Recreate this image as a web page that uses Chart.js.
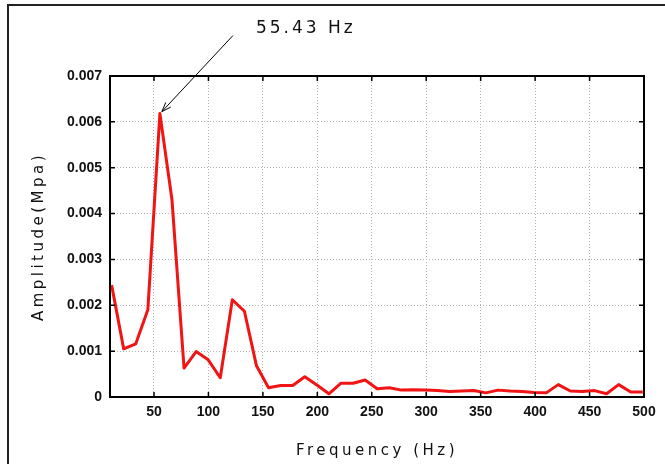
<!DOCTYPE html>
<html lang="en">
<head>
<meta charset="UTF-8">
<title>Amplitude spectrum</title>
<script src="https://cdn.jsdelivr.net/npm/chart.js"></script>
<style>
  body { margin: 0; background: #fff; }
  #wrap { position: relative; width: 665px; height: 464px; }
  #frame { position: absolute; left: 7px; top: 4px; right: 0; bottom: 0;
           border-top: 2px solid #222; border-left: 2px solid #222; pointer-events: none; }
</style>
</head>
<body>
<div id="wrap">
  <canvas id="spectrum" width="665" height="464"></canvas>
  <div id="frame"></div>
</div>

<script>
// frequency bins (Hz) and amplitude (MPa)
const freqHz = [11.09, 22.17, 33.26, 44.35, 55.43, 66.52, 77.60, 88.69, 99.78, 110.86,
                121.95, 133.04, 144.12, 155.21, 166.30, 177.38, 188.47, 199.56, 210.64, 221.73,
                232.81, 243.90, 254.99, 266.07, 277.16, 288.25, 299.33, 310.42, 321.51, 332.59,
                343.68, 354.76, 365.85, 376.94, 388.02, 399.11, 410.20, 421.28, 432.37, 443.46,
                454.54, 465.63, 476.71, 487.80, 498.89];
const amplitude = [0.00244, 0.00105, 0.00116, 0.00190, 0.00618, 0.00430, 0.00063, 0.00099, 0.00081, 0.00042,
                   0.00212, 0.00187, 0.00068, 0.00020, 0.00025, 0.00025, 0.00044, 0.00026, 0.00007, 0.00030,
                   0.00030, 0.00037, 0.00018, 0.00020, 0.00015, 0.00016, 0.00015, 0.00014, 0.00012, 0.00013,
                   0.00014, 0.00009, 0.00015, 0.00013, 0.00012, 0.00010, 0.00009, 0.00027, 0.00013, 0.00012,
                   0.00014, 0.00007, 0.00027, 0.00011, 0.00011];
const xTicks = [50, 100, 150, 200, 250, 300, 350, 400, 450, 500];
const yTicks = [0, 0.001, 0.002, 0.003, 0.004, 0.005, 0.006, 0.007];
const yTickLabels = ['0', '0.001', '0.002', '0.003', '0.004', '0.005', '0.006', '0.007'];
const xMin = 9.6, xMax = 500;

const peakAmp = Math.max(...amplitude);
const peakFreq = freqHz[amplitude.indexOf(peakAmp)];

// draw the axis title with letter spacing, like the original plot
function spacedTitle(scale, spacing) {
    if (scale._spaced) return;
    scale._spaced = true;
    const draw = scale.drawTitle;
    scale.drawTitle = function () {
        this.ctx.save();
        this.ctx.letterSpacing = spacing;
        draw.call(this);
        this.ctx.restore();
    };
}

// closed box, inward ticks on all four sides, and the peak arrow
const boxAndArrow = {
    id: 'boxAndArrow',
    afterDraw(chart) {
        const { ctx, chartArea: a, scales: { x, y } } = chart;
        ctx.save();
        ctx.strokeStyle = '#000';
        ctx.lineWidth = 2;
        ctx.strokeRect(a.left, a.top, a.right - a.left, a.bottom - a.top);

        ctx.lineWidth = 1.5;
        ctx.beginPath();
        x.ticks.forEach(t => {
            const px = x.getPixelForValue(t.value);
            ctx.moveTo(px, a.bottom); ctx.lineTo(px, a.bottom - 5);
            ctx.moveTo(px, a.top); ctx.lineTo(px, a.top + 5);
        });
        y.ticks.forEach(t => {
            const py = y.getPixelForValue(t.value);
            ctx.moveTo(a.left, py); ctx.lineTo(a.left + 5, py);
            ctx.moveTo(a.right, py); ctx.lineTo(a.right - 5, py);
        });
        ctx.stroke();

        // arrow pointing at the peak
        const tipX = x.getPixelForValue(peakFreq) + 2;
        const tipY = y.getPixelForValue(peakAmp) - 2;
        const tailX = tipX + 71, tailY = tipY - 76;
        const ang = Math.atan2(tailY - tipY, tailX - tipX);
        ctx.lineWidth = 1;
        ctx.beginPath();
        ctx.moveTo(tailX, tailY); ctx.lineTo(tipX, tipY);
        ctx.moveTo(tipX + 10 * Math.cos(ang - 0.35), tipY + 10 * Math.sin(ang - 0.35));
        ctx.lineTo(tipX, tipY);
        ctx.lineTo(tipX + 10 * Math.cos(ang + 0.35), tipY + 10 * Math.sin(ang + 0.35));
        ctx.stroke();

        ctx.fillStyle = '#111';
        ctx.font = '17px "DejaVu Sans"';
        ctx.letterSpacing = '3px';
        ctx.textAlign = 'left';
        ctx.textBaseline = 'middle';
        ctx.fillText(peakFreq.toFixed(2) + ' Hz', tailX + 23, tailY - 7);
        ctx.restore();
    }
};

new Chart(document.getElementById('spectrum'), {
    type: 'line',
    data: {
        datasets: [{
            data: freqHz.map((f, i) => ({ x: f, y: amplitude[i] })),
            borderColor: '#f01414',
            borderWidth: 3,
            borderJoinStyle: 'round',
            pointRadius: 0,
            tension: 0
        }]
    },
    options: {
        responsive: false,
        animation: false,
        devicePixelRatio: 1,
        layout: { padding: { left: 0, top: 76, right: 21, bottom: 0 } },
        plugins: { legend: { display: false }, tooltip: { enabled: false } },
        scales: {
            x: {
                type: 'linear',
                min: xMin,
                max: xMax,
                afterBuildTicks: s => { s.ticks = xTicks.map(v => ({ value: v })); },
                afterFit: s => { s.height = 67; spacedTitle(s, '3.5px'); },
                grid: { color: '#b4b4b4', lineWidth: 1, drawTicks: false },
                border: { display: true, color: '#000', width: 2, dash: [1, 2] },
                ticks: {
                    padding: 7,
                    color: '#111',
                    font: { family: 'Liberation Sans', size: 14, weight: 'bold' },
                    callback: v => String(v)
                },
                title: {
                    display: true,
                    text: 'Frequency (Hz)',
                    color: '#111',
                    font: { family: 'DejaVu Sans', size: 15 },
                    padding: { top: 0, bottom: 4 }
                }
            },
            y: {
                min: 0,
                max: 0.007,
                afterBuildTicks: s => { s.ticks = yTicks.map(v => ({ value: v })); },
                afterFit: s => { s.width = 110; spacedTitle(s, '3.5px'); },
                grid: { color: '#b4b4b4', lineWidth: 1, drawTicks: false },
                border: { display: true, color: '#000', width: 2, dash: [1, 2] },
                ticks: {
                    padding: 8,
                    color: '#111',
                    font: { family: 'Liberation Sans', size: 14, weight: 'bold' },
                    callback: (v, i) => yTickLabels[i]
                },
                title: {
                    display: true,
                    text: 'Amplitude(Mpa)',
                    color: '#111',
                    font: { family: 'DejaVu Sans', size: 15 },
                    padding: { top: 30, bottom: 0 }
                }
            }
        }
    },
    plugins: [boxAndArrow]
});
</script>
</body>
</html>
